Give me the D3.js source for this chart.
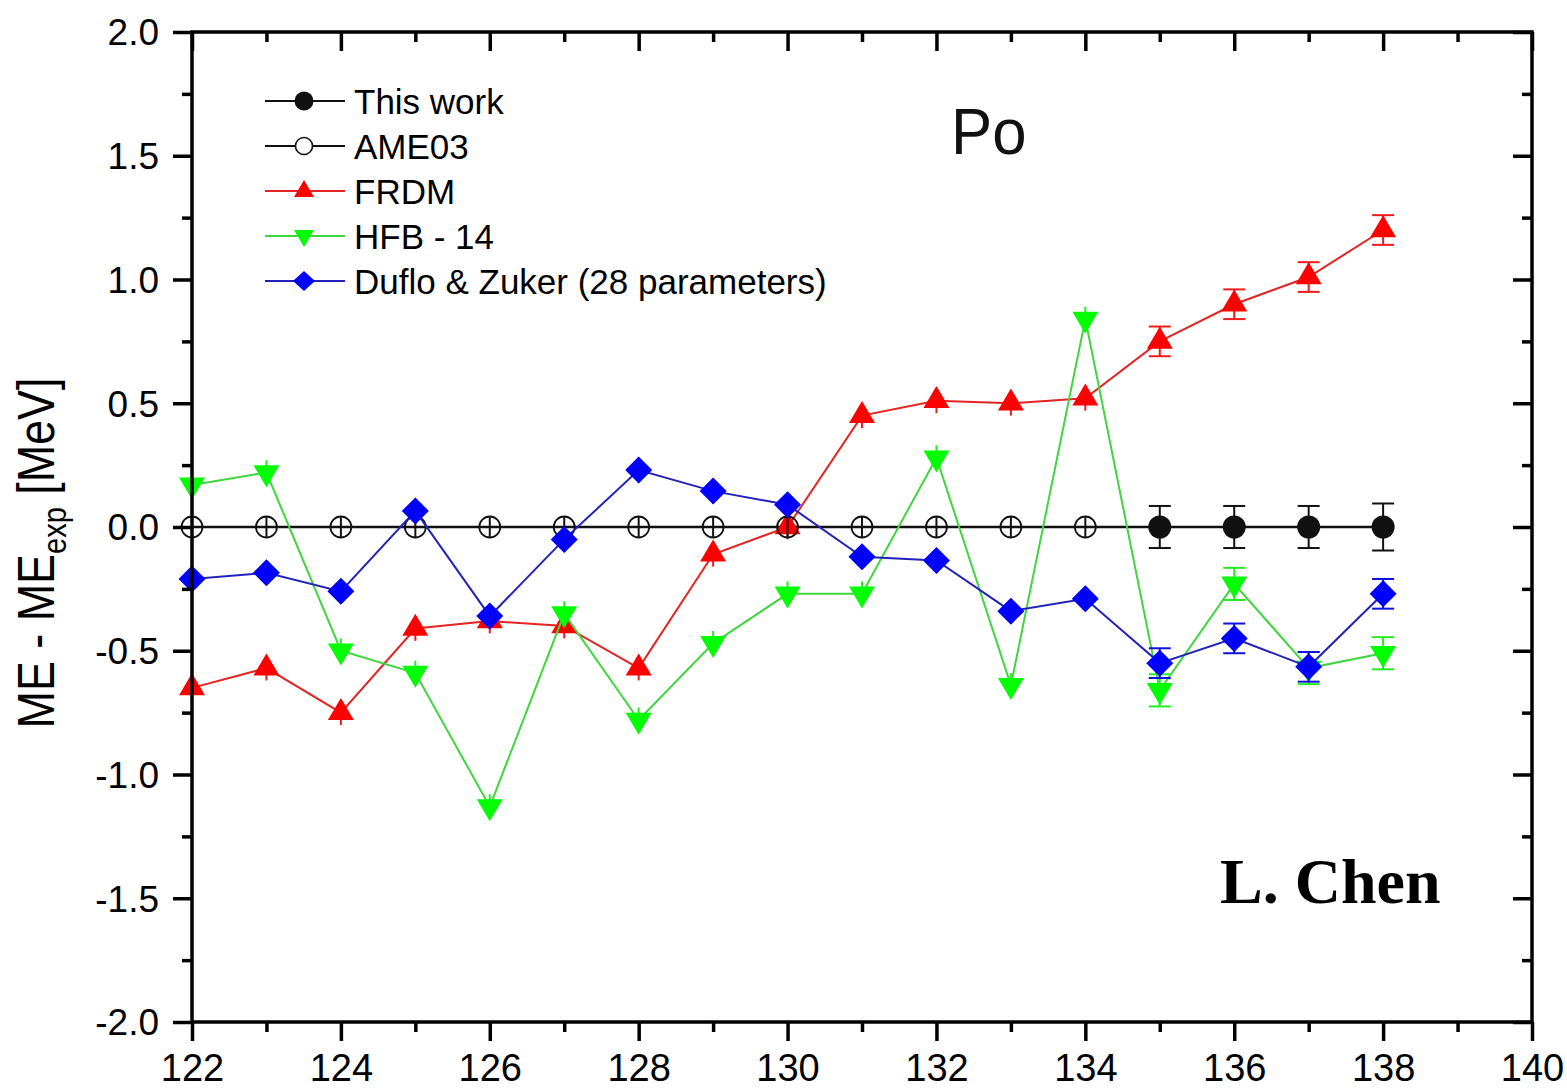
<!DOCTYPE html>
<html>
<head>
<meta charset="utf-8">
<script src="https://cdn.jsdelivr.net/npm/d3@7"></script>
<style>
  body { margin: 0; background: #fff; }
  text { font-family: "Liberation Sans", Arial, sans-serif; }
</style>
</head>
<body>
<div id="chart"></div>
<script>
// neutron number N for the model curves
var neutrons = [122, 123, 124, 125, 126, 127, 128, 129, 130, 131, 132, 133, 134, 135, 136, 137, 138];

// AME03 reference points (open circles)
var ameN = [122, 123, 124, 125, 126, 127, 128, 129, 130, 131, 132, 133, 134];
var ameME = [0, 0, 0, 0, 0, 0, 0, 0, 0, 0, 0, 0, 0];
var ameErr = [0.04, 0.04, 0.04, 0.04, 0.04, 0.04, 0.04, 0.04, 0.04, 0.04, 0.04, 0.04, 0.04];

// this work (filled circles)
var workN = [135, 136, 137, 138];
var workME = [0, 0, 0, 0];
var workErr = [0.085, 0.085, 0.085, 0.095];

// model differences ME - ME_exp [MeV]
var frdmME = [-0.65, -0.57, -0.75, -0.41, -0.38, -0.40, -0.57, -0.11, 0.00, 0.45, 0.51, 0.50, 0.52, 0.75, 0.90, 1.01, 1.20];
var frdmErr = [0.05, 0.05, 0.05, 0.05, 0.05, 0.05, 0.05, 0.05, 0.05, 0.05, 0.05, 0.05, 0.05, 0.06, 0.06, 0.06, 0.06];
var hfbME = [0.17, 0.22, -0.50, -0.59, -1.13, -0.35, -0.78, -0.47, -0.27, -0.27, 0.28, -0.64, 0.84, -0.66, -0.23, -0.57, -0.51];
var hfbErr = [0.05, 0.05, 0.05, 0.05, 0.05, 0.05, 0.05, 0.05, 0.05, 0.05, 0.05, 0.05, 0.05, 0.065, 0.065, 0.065, 0.065];
var dzME = [-0.21, -0.185, -0.26, 0.065, -0.36, -0.05, 0.23, 0.145, 0.09, -0.12, -0.135, -0.34, -0.29, -0.55, -0.45, -0.565, -0.27];
var dzErr = [0.05, 0.05, 0.05, 0.05, 0.05, 0.05, 0.05, 0.05, 0.05, 0.05, 0.05, 0.05, 0.05, 0.06, 0.06, 0.06, 0.06];

var legendLabels = ["This work", "AME03", "FRDM", "HFB - 14", "Duflo & Zuker (28 parameters)"];
var xTicks = [122, 124, 126, 128, 130, 132, 134, 136, 138, 140];
var xMinor = [123, 125, 127, 129, 131, 133, 135, 137, 139];
var yTicks = [-2.0, -1.5, -1.0, -0.5, 0.0, 0.5, 1.0, 1.5, 2.0];
var yMinor = [-1.75, -1.25, -0.75, -0.25, 0.25, 0.75, 1.25, 1.75];

var W = 1567, H = 1091;

var svg = d3.select("#chart")
    .append("svg")
    .attr("width", W)
    .attr("height", H);

var x = d3.scaleLinear().domain([122, 140]).range([192, 1532]);
var y = d3.scaleLinear().domain([-2, 2]).range([1022, 32]);

// symbols
var triUp = "M0,-14.7L13,7.3L-13,7.3Z";
var triDown = "M0,14.7L13,-7.3L-13,-7.3Z";
var diamond = "M0,-13.5L13.5,0L0,13.5L-13.5,0Z";
var triUpS = "M0,-11L10,6L-10,6Z";
var triDownS = "M0,11L10,-6L-10,-6Z";
var diamondS = "M0,-10L11,0L0,10L-11,0Z";

function seriesPoints(ns, vals, errs) {
    return ns.map(function (n, i) { return { n: n, v: vals[i], e: errs[i] }; });
}

var line = d3.line()
    .x(function (d) { return x(d.n); })
    .y(function (d) { return y(d.v); });

function drawLine(pts, color, width) {
    svg.append("path")
        .datum(pts)
        .attr("d", line)
        .attr("fill", "none")
        .attr("stroke", color)
        .attr("stroke-width", width);
}

function drawErrors(pts, color) {
    var g = svg.append("g").attr("stroke", color).attr("stroke-width", 2);
    pts.forEach(function (d) {
        g.append("line")
            .attr("x1", x(d.n)).attr("x2", x(d.n))
            .attr("y1", y(d.v - d.e)).attr("y2", y(d.v + d.e));
        // caps only on the points measured in this work
        if (workN.indexOf(d.n) >= 0) {
            [d.v - d.e, d.v + d.e].forEach(function (v) {
                g.append("line")
                    .attr("x1", x(d.n) - 11).attr("x2", x(d.n) + 11)
                    .attr("y1", y(v)).attr("y2", y(v));
            });
        }
    });
}

function drawMarkers(pts, shape, fill) {
    svg.append("g")
        .selectAll("path")
        .data(pts)
        .enter()
        .append("path")
        .attr("d", shape)
        .attr("transform", function (d) { return "translate(" + x(d.n) + "," + y(d.v) + ")"; })
        .attr("fill", fill);
}

var amePts = seriesPoints(ameN, ameME, ameErr);
var workPts = seriesPoints(workN, workME, workErr);
var frdmPts = seriesPoints(neutrons, frdmME, frdmErr);
var hfbPts = seriesPoints(neutrons, hfbME, hfbErr);
var dzPts = seriesPoints(neutrons, dzME, dzErr);

// black reference line through AME03 and this work
drawLine(amePts.concat(workPts), "#111", 2.4);

// FRDM
drawLine(frdmPts, "#e42424", 2);
drawErrors(frdmPts, "#ee1c1c");
drawMarkers(frdmPts, triUp, "#ff0000");

// HFB-14
drawLine(hfbPts, "#3fd63f", 2);
drawErrors(hfbPts, "#22ee22");
drawMarkers(hfbPts, triDown, "#00ff00");

// AME03 open circles with their error bar inside
drawErrors(amePts, "#111");
svg.append("g")
    .selectAll("circle")
    .data(amePts)
    .enter()
    .append("circle")
    .attr("cx", function (d) { return x(d.n); })
    .attr("cy", function (d) { return y(d.v); })
    .attr("r", 10.5)
    .attr("fill", "none")
    .attr("stroke", "#111")
    .attr("stroke-width", 1.8);

// this work
drawErrors(workPts, "#111");
svg.append("g")
    .selectAll("circle")
    .data(workPts)
    .enter()
    .append("circle")
    .attr("cx", function (d) { return x(d.n); })
    .attr("cy", function (d) { return y(d.v); })
    .attr("r", 11.5)
    .attr("fill", "#111");

// Duflo & Zuker
drawLine(dzPts, "#2222bb", 2);
drawErrors(dzPts, "#1010dd");
drawMarkers(dzPts, diamond, "#0000ff");

// axes: left/bottom ticks outward, top/right ticks inward
function styleAxis(g) {
    g.select(".domain").remove();
    g.selectAll("line").attr("stroke", "#000").attr("stroke-width", 3.5);
}

var left = svg.append("g")
    .attr("transform", "translate(" + x(122) + ",0)")
    .call(d3.axisLeft(y).tickValues(yTicks).tickSize(19).tickFormat(function (d) { return d.toFixed(1); }));
styleAxis(left);
left.selectAll("text")
    .attr("font-size", 37)
    .attr("fill", "#000")
    .attr("x", -33)
    .attr("dy", "0.35em");

svg.append("g")
    .attr("transform", "translate(" + x(122) + ",0)")
    .call(d3.axisLeft(y).tickValues(yMinor).tickSize(10).tickFormat(""))
    .call(styleAxis);

var bottom = svg.append("g")
    .attr("transform", "translate(0," + y(-2) + ")")
    .call(d3.axisBottom(x).tickValues(xTicks).tickSize(19).tickFormat(d3.format("d")));
styleAxis(bottom);
bottom.selectAll("text")
    .attr("font-size", 38)
    .attr("fill", "#000")
    .attr("y", 59)
    .attr("dy", 0);

svg.append("g")
    .attr("transform", "translate(0," + y(-2) + ")")
    .call(d3.axisBottom(x).tickValues(xMinor).tickSize(10).tickFormat(""))
    .call(styleAxis);

svg.append("g")
    .attr("transform", "translate(0," + y(2) + ")")
    .call(d3.axisTop(x).tickValues(xTicks).tickSize(-19).tickFormat(""))
    .call(styleAxis);
svg.append("g")
    .attr("transform", "translate(0," + y(2) + ")")
    .call(d3.axisTop(x).tickValues(xMinor).tickSize(-10).tickFormat(""))
    .call(styleAxis);

svg.append("g")
    .attr("transform", "translate(" + x(140) + ",0)")
    .call(d3.axisRight(y).tickValues(yTicks).tickSize(-19).tickFormat(""))
    .call(styleAxis);
svg.append("g")
    .attr("transform", "translate(" + x(140) + ",0)")
    .call(d3.axisRight(y).tickValues(yMinor).tickSize(-10).tickFormat(""))
    .call(styleAxis);

// frame
svg.append("rect")
    .attr("x", x(122))
    .attr("y", y(2))
    .attr("width", x(140) - x(122))
    .attr("height", y(-2) - y(2))
    .attr("fill", "none")
    .attr("stroke", "#000")
    .attr("stroke-width", 3.5);

// y label
var ylab = svg.append("text")
    .attr("transform", "translate(54,553) rotate(-90) scale(0.88,1)")
    .attr("text-anchor", "middle")
    .attr("font-size", 51)
    .attr("fill", "#000");
ylab.append("tspan").text("ME - ME");
ylab.append("tspan").attr("font-size", 33).attr("dy", 12).text("exp");
ylab.append("tspan").attr("dy", -12).text(" [MeV]");

// legend
var legendColors = ["#111", "#111", "#e42424", "#3fd63f", "#2222bb"];
var legend = svg.append("g").attr("transform", "translate(265,101)");
legendLabels.forEach(function (label, i) {
    var row = legend.append("g").attr("transform", "translate(0," + (i * 45) + ")");
    row.append("line")
        .attr("x1", 0).attr("x2", 80)
        .attr("y1", 0).attr("y2", 0)
        .attr("stroke", legendColors[i])
        .attr("stroke-width", 2);
    if (i === 0) {
        row.append("circle").attr("cx", 39).attr("r", 9.5).attr("fill", "#111");
    } else if (i === 1) {
        row.append("circle").attr("cx", 39).attr("r", 8.5).attr("fill", "#fff")
            .attr("stroke", "#111").attr("stroke-width", 1.6);
    } else {
        var shapes = [null, null, triUpS, triDownS, diamondS];
        var fills = [null, null, "#ff0000", "#00ff00", "#0000ff"];
        row.append("path").attr("d", shapes[i])
            .attr("transform", "translate(39,0)")
            .attr("fill", fills[i]);
    }
    row.append("text")
        .attr("x", 89)
        .attr("y", 12.5)
        .attr("font-size", 35)
        .attr("fill", "#000")
        .text(label);
});

// element label
svg.append("text")
    .attr("transform", "translate(951,154) scale(0.95,1)")
    .attr("font-size", 65)
    .attr("fill", "#111")
    .text("Po");

// author tag
svg.append("text")
    .attr("x", 1220)
    .attr("y", 903)
    .style("font-family", "'Liberation Serif', 'Times New Roman', serif")
    .attr("font-weight", "bold")
    .attr("font-size", 64)
    .attr("fill", "#000")
    .text("L. Chen");
</script>
</body>
</html>
